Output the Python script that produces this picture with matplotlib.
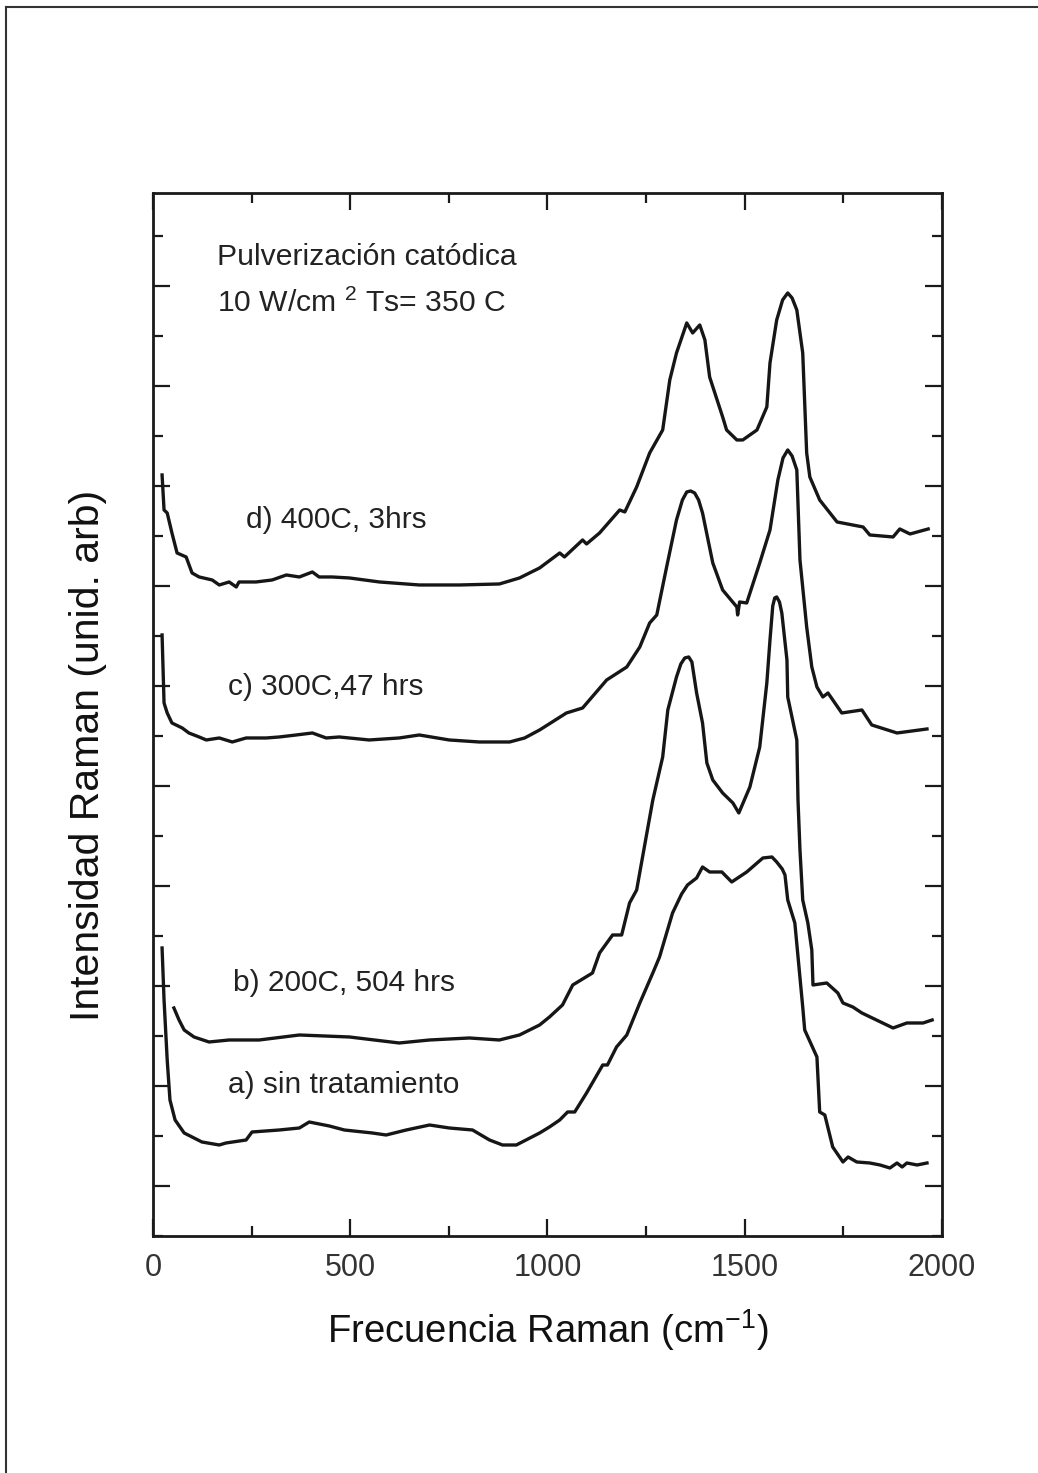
import numpy as np
import matplotlib.pyplot as plt
from matplotlib.ticker import MultipleLocator
from matplotlib.lines import Line2D

plt.rcParams['font.family'] = ['Liberation Sans', 'DejaVu Sans']
plt.rcParams['mathtext.fontset'] = 'custom'
plt.rcParams['mathtext.rm'] = 'Liberation Sans'

# Raman spectra (x in cm^-1, y in arbitrary offset units)
x_a = [23, 28, 36, 43, 56, 79, 104, 124, 168, 185, 236, 251, 320, 371, 396, 447, 485, 556,
       591, 642, 701, 751, 810, 853, 886, 921, 980, 1005, 1031, 1051, 1069, 1099, 1140, 1152,
       1175, 1201, 1234, 1267, 1284, 1317, 1340, 1355, 1378, 1393, 1411, 1442, 1467, 1505,
       1546, 1569, 1581, 1595, 1602, 1609, 1627, 1647, 1652, 1683, 1690, 1703, 1723, 1749,
       1762, 1784, 1817, 1843, 1868, 1886, 1899, 1911, 1937, 1962]
y_a = [2.38, 1.86, 1.26, 0.86, 0.66, 0.53, 0.48, 0.44, 0.41, 0.43, 0.46, 0.54, 0.56, 0.58,
       0.64, 0.60, 0.56, 0.53, 0.51, 0.56, 0.61, 0.58, 0.56, 0.46, 0.41, 0.41, 0.53, 0.59,
       0.66, 0.74, 0.74, 0.93, 1.21, 1.21, 1.39, 1.51, 1.83, 2.13, 2.29, 2.73, 2.92, 3.01,
       3.08, 3.19, 3.14, 3.14, 3.04, 3.14, 3.28, 3.29, 3.24, 3.17, 3.11, 2.86, 2.63, 1.79,
       1.56, 1.29, 0.74, 0.71, 0.39, 0.24, 0.29, 0.24, 0.23, 0.21, 0.18, 0.23, 0.19, 0.23,
       0.21, 0.23]

x_b = [53, 66, 79, 104, 142, 193, 269, 371, 498, 624, 701, 802, 878, 929, 980, 1005, 1038,
       1064, 1114, 1132, 1165, 1188, 1208, 1226, 1251, 1267, 1292, 1305, 1327, 1338, 1348,
       1358, 1366, 1378, 1393, 1404, 1419, 1444, 1470, 1485, 1513, 1538, 1556, 1564, 1571,
       1576, 1581, 1588, 1594, 1607, 1609, 1632, 1635, 1640, 1647, 1660, 1670, 1673, 1708,
       1736, 1749, 1774, 1797, 1876, 1911, 1952, 1975]
y_b = [1.78, 1.66, 1.56, 1.49, 1.44, 1.46, 1.46, 1.51, 1.49, 1.43, 1.46, 1.48, 1.46, 1.51,
       1.61, 1.69, 1.81, 2.01, 2.13, 2.33, 2.51, 2.51, 2.83, 2.96, 3.51, 3.86, 4.29, 4.76,
       5.09, 5.22, 5.28, 5.29, 5.24, 4.93, 4.63, 4.23, 4.06, 3.93, 3.83, 3.73, 3.99, 4.39,
       5.03, 5.46, 5.80, 5.88, 5.89, 5.84, 5.73, 5.26, 4.89, 4.46, 3.86, 3.36, 2.86, 2.63,
       2.36, 2.01, 2.03, 1.93, 1.83, 1.79, 1.73, 1.58, 1.63, 1.63, 1.66]

x_c = [23, 28, 36, 48, 74, 91, 117, 135, 168, 201, 236, 287, 320, 363, 404, 439, 472, 548,
       624, 675, 751, 827, 904, 942, 980, 1048, 1089, 1150, 1201, 1234, 1259, 1277, 1302,
       1327, 1342, 1353, 1363, 1373, 1383, 1393, 1419, 1444, 1480, 1482, 1487, 1505, 1538,
       1564, 1584, 1597, 1609, 1620, 1632, 1640, 1657, 1670, 1683, 1698, 1711, 1746, 1797,
       1822, 1886, 1962]
y_c = [5.51, 4.83, 4.73, 4.63, 4.58, 4.53, 4.49, 4.46, 4.48, 4.44, 4.48, 4.48, 4.49, 4.51,
       4.53, 4.48, 4.49, 4.46, 4.48, 4.51, 4.46, 4.44, 4.44, 4.48, 4.56, 4.73, 4.78, 5.06,
       5.19, 5.39, 5.63, 5.71, 6.19, 6.66, 6.86, 6.94, 6.95, 6.93, 6.86, 6.73, 6.23, 5.96,
       5.79, 5.71, 5.84, 5.83, 6.23, 6.56, 7.06, 7.28, 7.36, 7.30, 7.16, 6.26, 5.59, 5.19,
       4.99, 4.89, 4.93, 4.73, 4.76, 4.61, 4.53, 4.57]

x_d = [23, 28, 36, 48, 61, 84, 99, 117, 150, 168, 193, 211, 218, 261, 302, 338, 371, 404,
       421, 454, 498, 574, 675, 777, 878, 929, 980, 1031, 1043, 1089, 1099, 1132, 1183, 1196,
       1226, 1259, 1292, 1310, 1327, 1353, 1368, 1386, 1399, 1411, 1444, 1454, 1480, 1495,
       1531, 1556, 1564, 1581, 1596, 1609, 1620, 1632, 1647, 1657, 1665, 1690, 1734, 1800,
       1817, 1876, 1893, 1919, 1965]
y_d = [7.11, 6.76, 6.73, 6.53, 6.33, 6.29, 6.13, 6.09, 6.06, 6.01, 6.04, 5.99, 6.04, 6.04,
       6.06, 6.11, 6.09, 6.14, 6.09, 6.09, 6.08, 6.04, 6.01, 6.01, 6.02, 6.08, 6.18, 6.33,
       6.29, 6.46, 6.42, 6.53, 6.76, 6.74, 6.99, 7.33, 7.56, 8.06, 8.33, 8.63, 8.53, 8.61,
       8.46, 8.09, 7.69, 7.56, 7.46, 7.46, 7.56, 7.79, 8.23, 8.66, 8.86, 8.93, 8.88, 8.76,
       8.33, 7.33, 7.09, 6.86, 6.64, 6.59, 6.51, 6.49, 6.57, 6.52, 6.57]

labels = ['a) sin tratamiento', 'b) 200C, 504 hrs', 'c) 300C,47 hrs', 'd) 400C, 3hrs']
label_x = [190, 203, 190, 236]
label_y = [1.01, 2.03, 4.99, 6.66]

fig = plt.figure(figsize=(10.38, 14.73), dpi=100)
ax = fig.add_axes([0.1474, 0.1609, 0.7601, 0.7081])

for xs, ys in [(x_a, y_a), (x_b, y_b), (x_c, y_c), (x_d, y_d)]:
    ax.plot(xs, ys, color='#161616', lw=2.4, solid_joinstyle='round')

for lab, lx, ly in zip(labels, label_x, label_y):
    ax.text(lx, ly, lab, fontsize=21.5, va='center', ha='left', color='#222222')

ax.text(162, 9.29, 'Pulverización catódica', fontsize=21.7, va='center', color='#222222')
ax.text(162, 8.83, '10 W/cm $^2$ Ts= 350 C', fontsize=21.7, va='center', color='#222222')

ax.set_xlim(0, 2000)
ax.set_ylim(-0.5, 9.93)
ax.xaxis.set_major_locator(MultipleLocator(500))
ax.xaxis.set_minor_locator(MultipleLocator(250))
ax.yaxis.set_major_locator(MultipleLocator(1))
ax.yaxis.set_minor_locator(MultipleLocator(0.5))
ax.tick_params(which='both', direction='in', top=True, right=True, width=1.6,
               color='#1a1a1a')
ax.tick_params(which='major', length=12)
ax.tick_params(which='minor', length=7)
ax.tick_params(axis='x', labelsize=22, pad=12, labelcolor='#333333')
ax.set_yticklabels([])
for sp in ax.spines.values():
    sp.set_linewidth(2)
    sp.set_color('#1a1a1a')

ax.set_xlabel('Frecuencia Raman (cm$^{-1}$)', fontsize=27.5, labelpad=18, color='#111111')
ax.set_ylabel('Intensidad Raman (unid. arb)', fontsize=29.5, color='#111111')
ax.yaxis.set_label_coords(-0.058, 0.461)

# scanned page border
fig.add_artist(Line2D([0.006, 1.0], [0.9955, 0.9955], transform=fig.transFigure,
                      color='#333333', lw=1.5))
fig.add_artist(Line2D([0.006, 0.006], [0.0, 0.9955], transform=fig.transFigure,
                      color='#333333', lw=1.5))

fig.savefig('out.png', dpi=100)
